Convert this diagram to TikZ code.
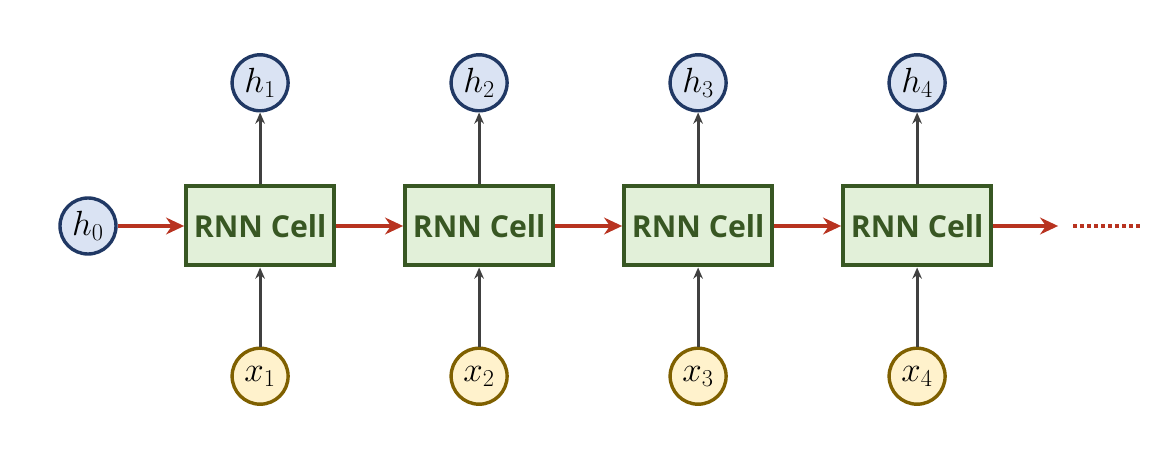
\documentclass[tikz,border=0pt]{standalone}
\usepackage{amsmath}
\usepackage{fontspec}
\setsansfont{Open Sans}
\usepackage{xcolor}
\usepackage{tikz}
\usetikzlibrary{arrows.meta, positioning}

\definecolor{hfill}{HTML}{DAE3F3}
\definecolor{hdraw}{HTML}{203864}
\definecolor{xfill}{HTML}{FFF2CC}
\definecolor{xdraw}{HTML}{7F6000}
\definecolor{cellfill}{HTML}{E2F0D9}
\definecolor{celldraw}{HTML}{385723}
\definecolor{flowred}{HTML}{B83320}
\definecolor{upgray}{HTML}{404040}

\begin{document}
\begin{tikzpicture}[
        % Node styles
        hstate/.style={circle, draw=hdraw, fill=hfill, line width=0.085cm,
                       minimum size=1.4cm, inner sep=0pt, font=\fontsize{26}{30}\selectfont},
        xinput/.style={circle, draw=xdraw, fill=xfill, line width=0.085cm,
                       minimum size=1.4cm, inner sep=0pt, font=\fontsize{26}{30}\selectfont},
        cell/.style={rectangle, draw=celldraw, fill=cellfill, line width=0.1cm,
                     minimum width=3.7cm, minimum height=1.975cm, text=celldraw,
                     font=\sffamily\bfseries\fontsize{21.5}{25}\selectfont},
        recur/.style={draw=flowred, line width=0.08cm, -{Stealth[length=0.45cm, width=0.42cm]}},
        upflow/.style={draw=upgray, line width=0.075cm, -{Stealth[length=0.28cm, width=0.24cm]}}
    ]
        \useasboundingbox (0,0) rectangle (28.9,11.4);

        % Initial state and cells
        \node[hstate] (h0) at (2.2,5.75) {$h_0$};
        \node[cell, right=1.66cm of h0] (cell1) {RNN Cell};
        \node[cell, right=1.675cm of cell1] (cell2) {RNN Cell};
        \node[cell, right=1.675cm of cell2] (cell3) {RNN Cell};
        \node[cell, right=1.675cm of cell3] (cell4) {RNN Cell};

        % Hidden outputs
        \node[hstate, above=1.8cm of cell1] (h1) {$h_1$};
        \node[hstate, above=1.8cm of cell2] (h2) {$h_2$};
        \node[hstate, above=1.8cm of cell3] (h3) {$h_3$};
        \node[hstate, above=1.8cm of cell4] (h4) {$h_4$};

        % Inputs
        \node[xinput, below=1.975cm of cell1] (x1) {$x_1$};
        \node[xinput, below=1.975cm of cell2] (x2) {$x_2$};
        \node[xinput, below=1.975cm of cell3] (x3) {$x_3$};
        \node[xinput, below=1.975cm of cell4] (x4) {$x_4$};

        % Tail of the chain
        \coordinate[right=1.625cm of cell4] (tail);
        \coordinate[right=0.375cm of tail] (dotsstart);
        \coordinate[right=1.675cm of dotsstart] (dotsend);

        % Recurrent arrows
        \draw[recur] (h0) -- (cell1);
        \draw[recur] (cell1) -- (cell2);
        \draw[recur] (cell2) -- (cell3);
        \draw[recur] (cell3) -- (cell4);
        \draw[recur] (cell4) -- (tail);
        \draw[flowred, line width=0.08cm, dash pattern=on 0.1cm off 0.075cm] (dotsstart) -- (dotsend);

        % Inputs into cells
        \draw[upflow] (x1) -- (cell1);
        \draw[upflow] (x2) -- (cell2);
        \draw[upflow] (x3) -- (cell3);
        \draw[upflow] (x4) -- (cell4);

        % Cells to outputs
        \draw[upflow] (cell1) -- (h1);
        \draw[upflow] (cell2) -- (h2);
        \draw[upflow] (cell3) -- (h3);
        \draw[upflow] (cell4) -- (h4);
    \end{tikzpicture}
\end{document}
